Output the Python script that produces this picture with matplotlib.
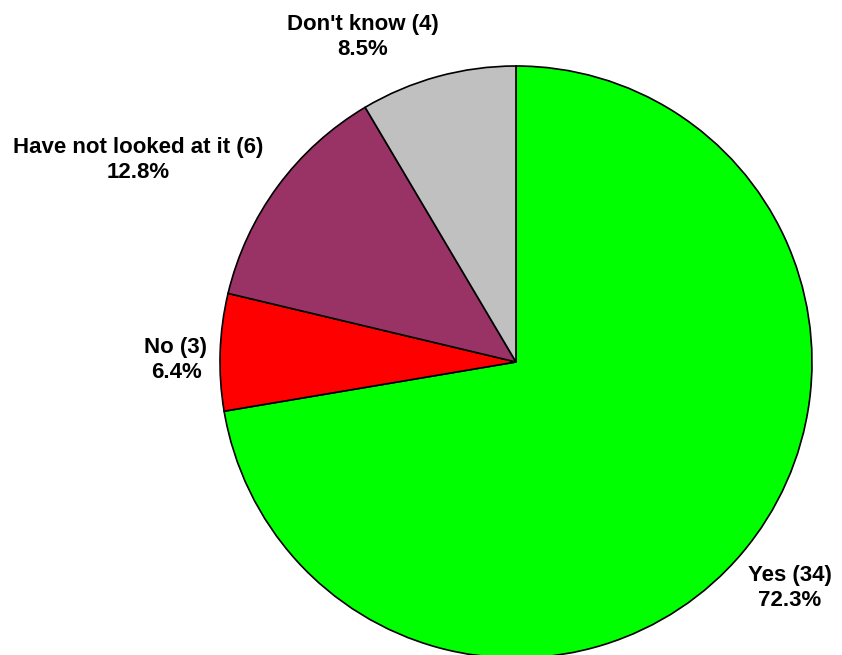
import matplotlib

matplotlib.use("Agg")
import matplotlib.pyplot as plt

categories = ["Yes", "No", "Have not looked at it", "Don't know"]
counts = [34, 3, 6, 4]
colors = ["#00FF00", "#FF0000", "#993366", "#C0C0C0"]

# label anchor points in pixel space (x, y from top)
label_pos = [(790, 588), (176, 360), (138, 160), (363, 37)]

W, H = 842, 655
fig = plt.figure(figsize=(W / 100, H / 100), dpi=100)
ax = fig.add_axes([0, 0, 1, 1])

cx, cy, r = 516, H - 362, 296
ax.pie(
    counts,
    colors=colors,
    startangle=90,
    counterclock=False,
    center=(cx, cy),
    radius=r,
    frame=True,
    wedgeprops={"edgecolor": "black", "linewidth": 1.2},
)
ax.set_xlim(0, W)
ax.set_ylim(0, H)
ax.set_aspect("equal")
ax.axis("off")

total = sum(counts)
for name, n, (x, y) in zip(categories, counts, label_pos):
    ax.text(
        x, H - y, f"{name} ({n})\n{100 * n / total:.1f}%",
        ha="center", va="center", fontsize=16, fontweight="bold",
        family="Liberation Sans", linespacing=1.2,
    )

fig.savefig("out.png", dpi=100)
